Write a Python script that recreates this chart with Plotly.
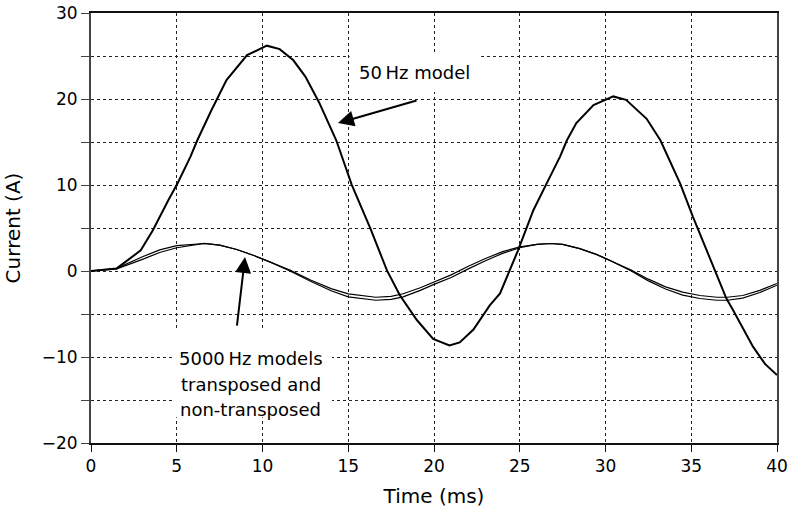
import plotly.graph_objects as go

# 50 Hz model
t_50 = [0, 1.5, 2.9, 3.6, 4.5, 5.05, 5.8, 6.2, 7.0, 7.9, 9.1, 10.25, 11.0, 11.8, 12.5, 13.3,
        14.3, 15.2, 16.3, 17.25, 18.0, 19.0, 19.95, 20.9, 21.5, 22.3, 23.25, 23.85, 24.9,
        25.8, 26.6, 27.35, 27.75, 28.3, 29.3, 30.45, 31.2, 32.4, 33.2, 34.35, 35.1, 35.9,
        36.5, 37.05, 37.45, 38.6, 39.3, 40]
i_50 = [0, 0.3, 2.4, 4.7, 8.2, 10.2, 13.3, 15.2, 18.6, 22.2, 25.1, 26.2, 25.8, 24.5, 22.6, 19.6,
        15.2, 10.05, 4.9, 0.1, -2.8, -5.7, -7.9, -8.65, -8.3, -6.8, -4.0, -2.6, 2.4,
        7.1, 10.3, 13.3, 15.2, 17.2, 19.3, 20.3, 19.9, 17.7, 15.2, 10.2, 6.3, 2.4,
        -0.3, -3.2, -4.6, -8.8, -10.8, -12.1]

# 5000 Hz models
t_5k = [0, 1.5, 3, 4, 5, 6, 6.6, 7.5, 8.5, 9.5, 10.5, 11.6, 12.8, 14, 15, 16.6, 17.5, 18.2,
        19.2, 20, 21, 22, 23, 24, 25, 26, 26.8, 27.5, 28.5, 29.5, 30.3, 31.5, 32.5, 33.5,
        34.5, 35.5, 36.5, 37.1, 38, 39, 40]
i_5k_tr = [0, 0.25, 1.35, 2.15, 2.7, 3.05, 3.2, 3.0, 2.5, 1.8, 1.0, 0.1, -1.05, -2.05, -2.65, -3.05,
           -2.95, -2.65, -1.95, -1.25, -0.45, 0.55, 1.45, 2.25, 2.8, 3.1, 3.2, 3.1, 2.6, 1.9, 1.2,
           0.1, -0.95, -1.85, -2.45, -2.85, -3.05, -3.05, -2.85, -2.25, -1.45]
i_5k_nt = [0, 0.3, 1.65, 2.45, 2.95, 3.15, 3.2, 3.0, 2.5, 1.8, 1.0, 0.0, -1.2, -2.3, -3.0, -3.4,
           -3.3, -3.0, -2.25, -1.55, -0.75, 0.25, 1.2, 2.05, 2.7, 3.1, 3.2, 3.1, 2.6, 1.9, 1.2,
           0.0, -1.15, -2.1, -2.8, -3.2, -3.4, -3.4, -3.15, -2.5, -1.65]

x_ticks = [0, 5, 10, 15, 20, 25, 30, 35, 40]
y_ticks = [-20, -15, -10, -5, 0, 5, 10, 15, 20, 25, 30]
y_ticktext = ["\u221220", "", "\u221210", "", "0", "", "10", "", "20", "", "30"]

FONT = "DejaVu Sans, Liberation Sans, Arial, sans-serif"

fig = go.Figure()
fig.add_trace(go.Scatter(x=t_5k, y=i_5k_tr, mode="lines", line=dict(color="black", width=1.2)))
fig.add_trace(go.Scatter(x=t_5k, y=i_5k_nt, mode="lines", line=dict(color="black", width=1.2)))
fig.add_trace(go.Scatter(x=t_50, y=i_50, mode="lines", line=dict(color="black", width=2)))

# white boxes behind labels (hide gridlines)
fig.add_shape(type="rect", x0=15.08, x1=22.75, y0=25.45, y1=20.8, layer="between",
              fillcolor="white", line=dict(width=0))
fig.add_shape(type="rect", x0=4.72, x1=14.05, y0=-6.67, y1=-17.0, layer="between",
              fillcolor="white", line=dict(width=0))

fig.add_annotation(x=18.85, y=23.1, text="50\u2009Hz model", showarrow=False,
                   font=dict(size=18, color="black", family=FONT))
fig.add_annotation(x=14.4, y=17.2, ax=19.07, ay=19.87, axref="x", ayref="y",
                   text="", showarrow=True, arrowhead=2, arrowsize=1.6, arrowwidth=2,
                   arrowcolor="black", standoff=0)
for txt, yy in [("5000\u2009Hz models", -10.16), ("transposed and", -13.2), ("non-transposed", -16.1)]:
    fig.add_annotation(x=9.3, y=yy, text=txt, showarrow=False,
                       font=dict(size=18, color="black", family=FONT))
fig.add_annotation(x=8.98, y=1.63, ax=8.5, ay=-6.52, axref="x", ayref="y",
                   text="", showarrow=True, arrowhead=2, arrowsize=1.6, arrowwidth=2,
                   arrowcolor="black", standoff=0)

fig.update_layout(
    width=793, height=512,
    margin=dict(l=91, r=16, t=13, b=69, autoexpand=False),
    paper_bgcolor="white", plot_bgcolor="white",
    showlegend=False,
    font=dict(family=FONT, size=17, color="black"),
)
fig.update_xaxes(
    range=[0, 40], tickvals=x_ticks, ticktext=[str(v) for v in x_ticks],
    showgrid=True, gridcolor="#222", griddash="dot", gridwidth=1,
    showline=True, linecolor="#111", linewidth=1.5, mirror=True,
    ticks="outside", ticklen=7, tickcolor="#111", tickwidth=1.2,
    zeroline=False, title=dict(text="Time (ms)", standoff=14),
    tickfont=dict(size=17), automargin=False,
)
fig.update_yaxes(
    range=[-20, 30], tickvals=y_ticks, ticktext=y_ticktext,
    showgrid=True, gridcolor="#222", griddash="dot", gridwidth=1,
    showline=True, linecolor="#444", linewidth=2, mirror=True,
    ticks="outside", ticklen=8, tickcolor="#444", tickwidth=1.2,
    zeroline=False, title=dict(text="Current (A)", standoff=16),
    tickfont=dict(size=17), automargin=False,
)

fig.write_html("out.html", config={"displayModeBar": False},
               post_script="document.body.style.margin='0';document.body.style.padding='0';")
